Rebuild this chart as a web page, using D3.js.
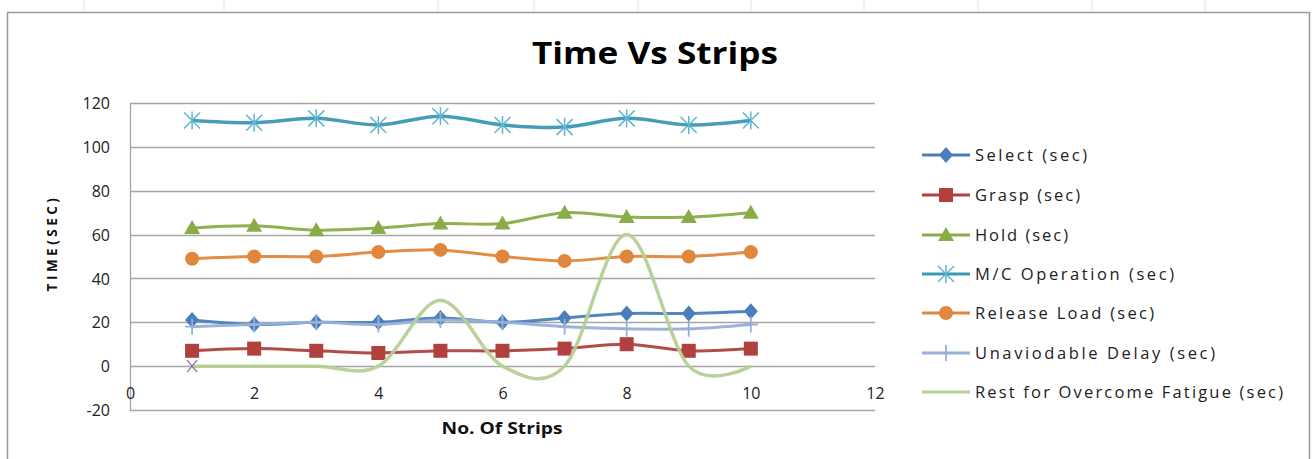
<!DOCTYPE html>
<html><head><meta charset="utf-8">
<script src="https://cdn.jsdelivr.net/npm/d3@7"></script>
<style>body{margin:0;background:#fff;} svg{display:block;}</style>
</head><body>
<svg id="c" width="1312" height="459"></svg>
<script>
const strips = [1,2,3,4,5,6,7,8,9,10];
const selectSec = [21,19,20,20,22,20,22,24,24,25];
const graspSec = [7,8,7,6,7,7,8,10,7,8];
const holdSec = [63,64,62,63,65,65,70,68,68,70];
const mcOperationSec = [112,111,113,110,114,110,109,113,110,112];
const releaseLoadSec = [49,50,50,52,53,50,48,50,50,52];
const unavoidableDelaySec = [18,19,20,19,21,20,18,17,17,19];
const restSec = [0,0,0,0,30,0,0,60,0,0];
const seriesNames = ["Select  (sec)","Grasp (sec)","Hold (sec)","M/C  Operation (sec)","Release  Load (sec)","Unaviodable  Delay  (sec)","Rest for  Overcome Fatigue (sec)"];
const xTicks = [0,2,4,6,8,10,12];
const yTicks = [-20,0,20,40,60,80,100,120];

// legend label rendered widths (layout only)
const legendTextWidths = [112,105,93,199,179,240,308];

const svg = d3.select("#c");
const W=1312,H=459;
const font = "'Open Sans', 'Liberation Sans', sans-serif";

// spreadsheet background ticks
[84,224,438,534,638,751,864,978,1092,1205].forEach(x=>{
  svg.append("line").attr("x1",x).attr("x2",x).attr("y1",0).attr("y2",11).attr("stroke","#e2e2e2").attr("stroke-width",1);
});
// chart border
svg.append("path").attr("d",`M7.5,${H+2}V12.5H1309.5V${H+2}`).attr("fill","none").attr("stroke","#9a9a9a").attr("stroke-width",1.5);

// title
svg.append("text").attr("x",655).attr("y",64).attr("text-anchor","middle")
  .attr("font-family",font).attr("font-weight","bold").attr("font-size",30)
  .attr("textLength",246).attr("lengthAdjust","spacingAndGlyphs").attr("fill","#000").text("Time Vs Strips");

const x = d3.scaleLinear().domain([0,12]).range([130,875]);
const y = d3.scaleLinear().domain([-20,120]).range([410,103]);

// gridlines
svg.append("g").selectAll("line").data(yTicks).join("line")
  .attr("x1",x(0)).attr("x2",x(12)).attr("y1",d=>Math.round(y(d))+0.5).attr("y2",d=>Math.round(y(d))+0.5)
  .attr("stroke","#a6a6a6").attr("stroke-width",1.3);
// y axis line
svg.append("line").attr("x1",x(0)+0.5).attr("x2",x(0)+0.5).attr("y1",y(120)).attr("y2",y(-20)+1).attr("stroke","#a6a6a6").attr("stroke-width",1.3);

// y tick labels
const yAxis = d3.axisLeft(y).tickValues(yTicks).tickSize(0).tickPadding(20).tickFormat(d=>String(d));
const gy = svg.append("g").attr("transform",`translate(${x(0)},0)`).call(yAxis);
gy.select(".domain").remove();
gy.selectAll("text").attr("font-family",font).attr("font-size",16).attr("fill","#222").attr("dy","0.35em");

// x tick labels (placed below the zero line)
const xAxis = d3.axisBottom(x).tickValues(xTicks).tickSize(0).tickPadding(21).tickFormat(d=>String(d));
const gx = svg.append("g").attr("transform",`translate(0,${y(0)})`).call(xAxis);
gx.select(".domain").remove();
gx.selectAll("text").attr("font-family",font).attr("font-size",16).attr("fill","#222");

// axis titles
svg.append("text").attr("x",502).attr("y",434).attr("text-anchor","middle")
  .attr("font-family",font).attr("font-weight","bold").attr("font-size",15.5)
  .attr("textLength",121).attr("lengthAdjust","spacingAndGlyphs").attr("fill","#111").text("No. Of Strips");
svg.append("text").attr("transform","translate(57,243) rotate(-90)").attr("text-anchor","middle")
  .attr("font-family",font).attr("font-weight","bold").attr("font-size",13.5).attr("letter-spacing",3.5).attr("fill","#111").text("TIME(SEC)");

const series = [
  {name:seriesNames[0], vals:selectSec, color:"#4a7ebb", marker:"diamond", w:3},
  {name:seriesNames[1], vals:graspSec, color:"#b0413e", marker:"square", w:3},
  {name:seriesNames[2], vals:holdSec, color:"#8aac48", marker:"triangle", w:3},
  {name:seriesNames[3], vals:mcOperationSec, color:"#3e98b2", marker:"asterisk", w:3.5},
  {name:seriesNames[4], vals:releaseLoadSec, color:"#e0873d", marker:"circle", w:3},
  {name:seriesNames[5], vals:unavoidableDelaySec, color:"#98b0d8", marker:"plus", w:3},
  {name:seriesNames[6], vals:restSec, color:"#b6d095", marker:"none", w:3.5}
];

const line = d3.line().x((d,i)=>x(strips[i])).y(d=>y(d)).curve(d3.curveCardinal.tension(0));

function drawMarker(g, type, cx, cy, color){
  if(type==="diamond"){
    g.append("path").attr("d",`M${cx},${cy-8}L${cx+7},${cy}L${cx},${cy+8}L${cx-7},${cy}Z`).attr("fill",color);
  } else if(type==="square"){
    g.append("rect").attr("x",cx-7).attr("y",cy-7).attr("width",14).attr("height",14).attr("fill",color);
  } else if(type==="triangle"){
    g.append("path").attr("d",`M${cx},${cy-8}L${cx+8},${cy+6}L${cx-8},${cy+6}Z`).attr("fill",color);
  } else if(type==="circle"){
    g.append("circle").attr("cx",cx).attr("cy",cy).attr("r",7).attr("fill",color);
  } else if(type==="asterisk"){
    const r=8, c2 = "#5fb6d0";
    const p = `M${cx-r},${cy-r}L${cx+r},${cy+r}M${cx-r},${cy+r}L${cx+r},${cy-r}M${cx},${cy-r-1}L${cx},${cy+r+1}`;
    g.append("path").attr("d",p).attr("stroke",c2).attr("stroke-width",1.5).attr("fill","none");
  } else if(type==="plus"){
    const p = `M${cx-7},${cy}L${cx+7},${cy}M${cx},${cy-8}L${cx},${cy+8}`;
    g.append("path").attr("d",p).attr("stroke",color).attr("stroke-width",1.8).attr("fill","none");
  }
}

const plot = svg.append("g");
series.forEach(s=>{
  const g = plot.append("g");
  g.append("path").datum(s.vals).attr("d",line).attr("fill","none").attr("stroke",s.color)
    .attr("stroke-width",s.w).attr("stroke-linejoin","round").attr("stroke-opacity",0.95);
  s.vals.forEach((v,i)=>drawMarker(g,s.marker,x(strips[i]),y(v),s.color));
});
// small purple X marker at the first Rest point
const xm = x(strips[0]), ym = y(restSec[0]);
plot.append("path").attr("d",`M${xm-5},${ym-6}L${xm+5},${ym+6}M${xm-5},${ym+6}L${xm+5},${ym-6}`)
  .attr("stroke","#8a70b0").attr("stroke-width",1.3).attr("fill","none");

// legend
const legY = [155,195,235,274,313,353,392];
const leg = svg.append("g");
series.forEach((s,i)=>{
  const ly = legY[i];
  leg.append("line").attr("x1",922).attr("x2",970).attr("y1",ly).attr("y2",ly).attr("stroke",s.color).attr("stroke-width",3);
  drawMarker(leg, s.marker, 946, ly, s.color);
  leg.append("text").attr("x",975).attr("y",ly).attr("dy","0.35em").attr("font-family",font)
    .attr("font-size",16.5).attr("fill","#222")
    .attr("textLength",legendTextWidths[i]).attr("lengthAdjust","spacing").text(s.name);
});
</script>
</body></html>
